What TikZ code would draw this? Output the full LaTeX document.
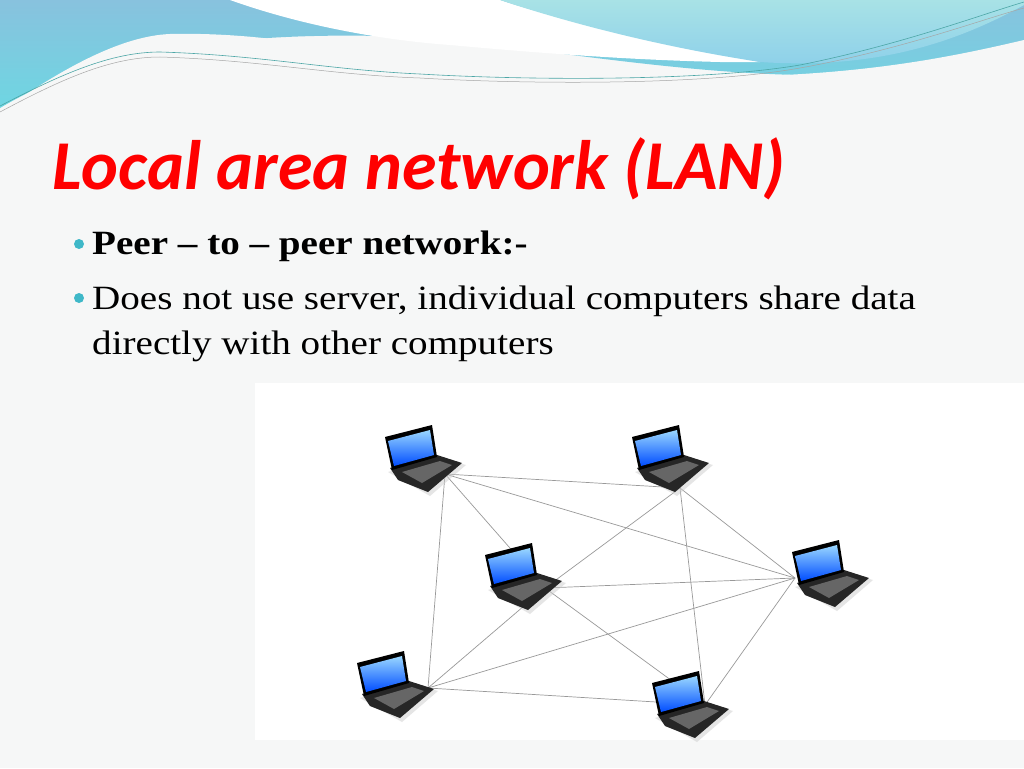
\documentclass[tikz,border=0pt]{standalone}
\usepackage{fontspec}
\setmainfont{Liberation Serif}[FakeStretch=1.15]
\newfontfamily\titlefont{Carlito}
\definecolor{wavea}{HTML}{88C2DE}
\definecolor{waveb}{HTML}{6ED6E2}
\definecolor{wavec}{HTML}{A8E2E6}
\definecolor{waved}{HTML}{8CCFEA}
\definecolor{bulc}{HTML}{3FB8C8}
\definecolor{bgc}{HTML}{F6F7F7}
\begin{document}
\begin{tikzpicture}[x=1pt,y=-1pt,
  link/.style={draw=gray!80,line width=0.7pt},
  bul/.style={circle,fill=bulc,inner sep=0pt,minimum size=10pt},
  txt/.style={anchor=base west,inner sep=0pt,font=\fontsize{34}{40}\selectfont}]
\useasboundingbox (0,0) rectangle (1024,768);
\fill[bgc] (0,0) rectangle (1024,768);
% header waves
\shade[top color=wavea,bottom color=waveb] (0,0) -- (1024,0) -- (1024,45) .. controls (960,60) and (880,75) .. (800,75) .. controls (650,72) and (500,40) .. (380,36) .. controls (200,32) and (80,60) .. (0,108) -- cycle;
\fill[white] (230,0) .. controls (300,25) and (380,40) .. (450,45) .. controls (560,55) and (640,60) .. (720,62) -- (760,62) .. controls (650,40) and (560,20) .. (500,0) -- cycle;
\shade[top color=wavec,bottom color=waved] (500,0) .. controls (560,20) and (650,45) .. (760,62) .. controls (880,70) and (960,40) .. (1024,5) -- (1024,0) -- cycle;
\fill[bgc] (0,112) .. controls (60,70) and (120,36) .. (170,34) .. controls (260,32) and (330,48) .. (420,60) .. controls (520,70) and (640,78) .. (760,76) .. controls (880,72) and (960,55) .. (1024,40) -- (1024,130) -- (0,130) -- cycle;
\draw[teal!70,line width=0.6pt] (0,106) .. controls (60,75) and (110,52) .. (160,52) .. controls (260,55) and (330,70) .. (420,74) .. controls (520,80) and (700,82) .. (800,65) .. controls (900,45) and (980,15) .. (1024,2);
\draw[gray!70,line width=0.5pt] (0,112) .. controls (60,80) and (110,57) .. (160,57) .. controls (260,60) and (330,75) .. (420,78) .. controls (520,84) and (700,86) .. (800,68) .. controls (900,50) and (980,20) .. (1024,8);
% title and bullets
\node[anchor=base west,inner sep=0pt,text=red,font=\titlefont\bfseries\itshape\fontsize{70}{74}\selectfont] (title) at (52,189) {Local area network (LAN)};
\node[bul] (b1) at (79,244) {};
\node[txt] (t1) at (92,254) {\bfseries Peer -- to -- peer network:-};
\node[bul] (b2) at (79,298) {};
\node[txt] (t2) at (92,309) {Does not use server, individual computers share data};
\node[txt] (t3) at (92,354) {directly with other computers};
% photo
\fill[white] (255,383) rectangle (1024,740);
\coordinate (h1) at (445,474);
\coordinate (h2) at (680,488);
\coordinate (h3) at (545,588);
\coordinate (h4) at (795,578);
\coordinate (h5) at (428,688);
\coordinate (h6) at (705,705);
\foreach \a/\b in {h1/h2,h1/h4,h1/h5,h1/h3,h2/h3,h2/h4,h2/h6,h3/h4,h3/h5,h3/h6,h4/h5,h4/h6,h5/h6}
  \draw[link] (\a) -- (\b);
\tikzset{laptop/.pic={
  \fill[black!20,opacity=0.5] (-40,-20) -- (10,-35) -- (38,-27) -- (2,4) -- cycle;
  \fill[black!85] (-38,-24) -- (9,-37) -- (34,-29) -- (0,0) -- (-30,-12) -- cycle;
  \fill[black!60] (-26,-20) -- (12,-31) -- (24,-27) -- (-6,-9) -- cycle;
  \fill[black] (-43,-55) -- (4,-67) -- (9,-35) -- (-36,-22) -- cycle;
  \shade[top color=blue!40!cyan!40,bottom color=blue!70!cyan] (-40,-51) -- (2,-62) -- (6,-37) -- (-34,-26) -- cycle;
}}
\pic (p1) at (428,492) {laptop};
\pic (p2) at (675,492) {laptop};
\pic (p3) at (528,610) {laptop};
\pic (p4) at (835,607) {laptop};
\pic (p5) at (400,718) {laptop};
\pic (p6) at (695,738) {laptop};
\end{tikzpicture}
\end{document}
